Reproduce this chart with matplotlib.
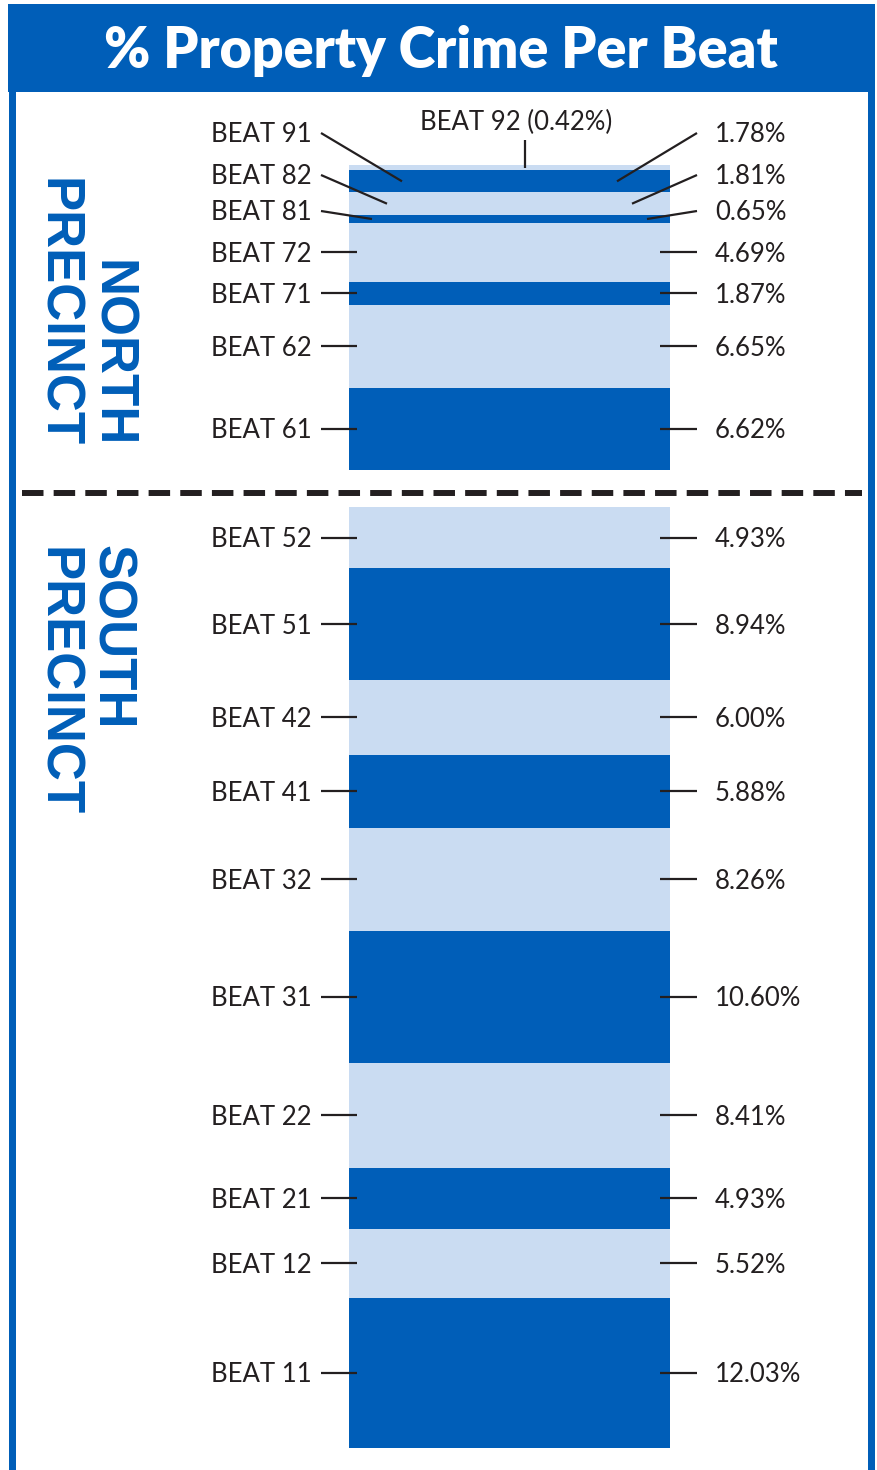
import matplotlib
matplotlib.use('Agg')
import matplotlib.pyplot as plt
from matplotlib.patches import Rectangle
from matplotlib.lines import Line2D
from matplotlib.transforms import blended_transform_factory
import numpy as np

# ---------------- data ----------------
title = '% Property Crime Per Beat'
north_beats = ['BEAT 92', 'BEAT 91', 'BEAT 82', 'BEAT 81', 'BEAT 72', 'BEAT 71', 'BEAT 62', 'BEAT 61']
north_pct = [0.42, 1.78, 1.81, 0.65, 4.69, 1.87, 6.65, 6.62]
south_beats = ['BEAT 52', 'BEAT 51', 'BEAT 42', 'BEAT 41', 'BEAT 32', 'BEAT 31', 'BEAT 22', 'BEAT 21', 'BEAT 12', 'BEAT 11']
south_pct = [4.93, 8.94, 6.00, 5.88, 8.26, 10.60, 8.41, 4.93, 5.52, 12.03]
precincts = ['NORTH', 'SOUTH']

# ---------------- style ----------------
BLUE = '#005EB8'
LIGHT = '#CADCF2'
INK = '#231F20'
LABEL_FONT = ['Lato', 'DejaVu Sans']

W, H = 878, 1470
fig = plt.figure(figsize=(W / 100, H / 100), dpi=100)
fig.patch.set_facecolor('white')


def fx(x):
    return x / W


def fy(y):
    return 1 - y / H


# frame
fig.add_artist(Rectangle((fx(8), fy(92)), (875 - 8) / W, 88 / H, transform=fig.transFigure,
                         facecolor=BLUE, edgecolor='none'))
fig.add_artist(Rectangle((fx(9), 0), 7 / W, fy(92), transform=fig.transFigure,
                         facecolor=BLUE, edgecolor='none'))
fig.add_artist(Rectangle((fx(868), 0), 7 / W, fy(92), transform=fig.transFigure,
                         facecolor=BLUE, edgecolor='none'))
fig.text(fx(441), fy(51), title, ha='center', va='center', color='white',
         fontsize=40, fontweight='heavy', family=LABEL_FONT)

# dashed separator
fig.add_artist(Line2D([fx(22), fx(862)], [fy(493), fy(493)], transform=fig.transFigure,
                      color=INK, lw=4.3, dashes=(3.6, 1.7), solid_capstyle='butt',
                      dash_capstyle='butt'))

# precinct titles
pfont = dict(color=BLUE, fontsize=38, fontweight='bold', family=['Liberation Sans', 'DejaVu Sans'],
             rotation=270, ha='center')
fig.text(fx(111), fy(447), precincts[0], va='bottom', **pfont)
fig.text(fx(57), fy(447), 'PRECINCT', va='bottom', **pfont)
fig.text(fx(111), fy(545), precincts[1], va='top', **pfont)
fig.text(fx(57), fy(547), 'PRECINCT', va='top', **pfont)

# ---------------- bars ----------------
SCALE = 12.46  # px per percent
BAR_L, BAR_R = 349, 670
YOFF = 2.0 / SCALE  # small downward shift of label text


def make_axes(top_px, total):
    h = total * SCALE
    ax = fig.add_axes([fx(BAR_L), fy(top_px + h), (BAR_R - BAR_L) / W, h / H])
    ax.set_xlim(-0.5, 0.5)
    ax.set_ylim(total, 0)
    ax.axis('off')
    return ax


def px2frac(x):
    return (x - BAR_L) / (BAR_R - BAR_L)


tfont = dict(fontsize=18.5, color=INK, family=LABEL_FONT)


def draw_stack(ax, top_px, beats, vals, special=None):
    vals = np.array(vals)
    bottoms = np.concatenate([[0], np.cumsum(vals)[:-1]])
    colors = [LIGHT if i % 2 == 0 else BLUE for i in range(len(vals))]
    ax.bar(np.zeros(len(vals)), vals, bottom=bottoms, width=1.0, color=colors, linewidth=0)
    centers = bottoms + vals / 2
    tr = blended_transform_factory(ax.transAxes, ax.transData)
    special = special or {}
    for name, v, c in zip(beats, vals, centers):
        pct = f'{v:.2f}%'
        if name in special:
            kind = special[name]
            if kind[0] == 'top':
                lx, ly = kind[1], kind[2]
                ydat = (ly - top_px) / SCALE
                ax.text(px2frac(lx), ydat, f'{name} ({pct})', transform=tr, ha='center', va='center', **tfont)
                xl = px2frac(525)
                ax.plot([xl, xl], [(140 - top_px) / SCALE, c], transform=tr, color=INK, lw=1.6,
                        clip_on=False, solid_capstyle='butt')
            else:
                ly, dx = kind[1], kind[2]
                ydat = (ly - top_px) / SCALE
                ax.text(px2frac(312), ydat + YOFF, name, transform=tr, ha='right', va='center', **tfont)
                ax.text(px2frac(715), ydat + YOFF, pct, transform=tr, ha='left', va='center', **tfont)
                ax.plot([px2frac(321), px2frac(BAR_L + dx)], [ydat, c], transform=tr, color=INK,
                        lw=1.6, clip_on=False, solid_capstyle='butt')
                ax.plot([px2frac(697), px2frac(BAR_R - dx)], [ydat, c], transform=tr, color=INK,
                        lw=1.6, clip_on=False, solid_capstyle='butt')
        else:
            ax.text(px2frac(312), c + YOFF, name, transform=tr, ha='right', va='center', **tfont)
            ax.text(px2frac(715), c + YOFF, pct, transform=tr, ha='left', va='center', **tfont)
            ax.plot([px2frac(321), px2frac(357)], [c, c], transform=tr, color=INK, lw=1.6,
                    clip_on=False, solid_capstyle='butt')
            ax.plot([px2frac(660), px2frac(697)], [c, c], transform=tr, color=INK, lw=1.6,
                    clip_on=False, solid_capstyle='butt')


NORTH_TOP = 165
SOUTH_TOP = 507
ax_n = make_axes(NORTH_TOP, sum(north_pct))
ax_s = make_axes(SOUTH_TOP, sum(south_pct))

north_special = {
    'BEAT 92': ('top', 516, 122),
    'BEAT 91': ('diag', 133, 53),
    'BEAT 82': ('diag', 175, 38),
    'BEAT 81': ('diag', 211, 23),
}
draw_stack(ax_n, NORTH_TOP, north_beats, north_pct, north_special)
draw_stack(ax_s, SOUTH_TOP, south_beats, south_pct)

fig.savefig('out.png', dpi=100, facecolor='white')
